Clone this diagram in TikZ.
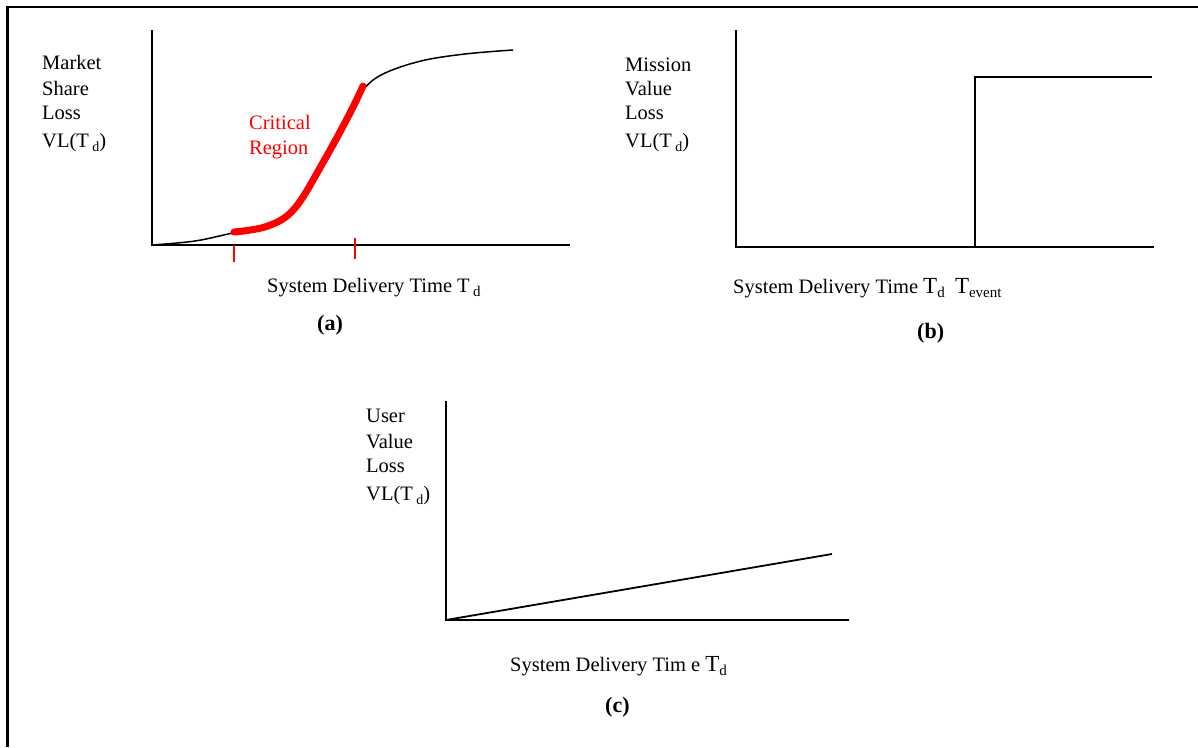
\documentclass[tikz,border=0pt]{standalone}
\usepackage{fontspec}
\setmainfont{Liberation Serif}
% lowered subscript letter of given size
\newcommand{\lowsub}[2]{\raisebox{-4pt}{\fontsize{#1}{#1}\selectfont #2}}
\newcommand{\bigT}{{\fontsize{23}{23}\selectfont T}}
\begin{document}
\begin{tikzpicture}[x=1pt,y=-1pt,
  lbl/.style={anchor=base west, inner sep=0pt, font=\fontsize{20.5}{25.5}\selectfont},
  redlbl/.style={lbl, text=red},
  panelcap/.style={anchor=base west, inner sep=0pt, font=\fontsize{22}{26}\selectfont\bfseries},
  axis/.style={line width=2.2pt},
  curve/.style={line width=1.5pt},
  frame/.style={line width=2.6pt},
  crit/.style={red, line width=7pt, line cap=round},
  tickmark/.style={red, line width=1.5pt}]
\useasboundingbox (0,0) rectangle (1198,747);

% outer frame (top and left edges)
\coordinate (fTL) at (7.5,7);
\coordinate (fTR) at (1198,7);
\coordinate (fBL) at (7.5,747);
\draw[frame] (fTR) -- (fTL) -- (fBL);

% ---------- panel (a): market share loss ----------
\coordinate (aO) at (152,245);
\coordinate (aY) at (152,30);
\coordinate (aX) at (570,245);
\draw[axis] (aY) -- (aO) -- (aX);
\draw[curve] plot[smooth, tension=0.6] coordinates {(152,245) (195,241) (233,233) (268,227) (295,209) (325,160) (350,114) (363,90) (383,74) (421,61) (465,54) (513,50)};
\draw[crit] plot[smooth, tension=0.6] coordinates {(234,232) (268,226) (295,208) (325,159) (350,113) (363,86)};
\coordinate (t1a) at (234,245);
\coordinate (t1b) at (234,262);
\coordinate (t2a) at (355,238);
\coordinate (t2b) at (355,259);
\draw[tickmark] (t1a) -- (t1b);
\draw[tickmark] (t2a) -- (t2b);
\node[lbl] (aYl1) at (42,69) {Market};
\node[lbl] (aYl2) at (42,95) {Share};
\node[lbl] (aYl3) at (42,119) {Loss};
\node[lbl] (aYl4) at (42,147) {VL(T\,\lowsub{14}{d})};
\node[redlbl] (crit1) at (249,129) {Critical};
\node[redlbl] (crit2) at (249,154) {Region};
\node[lbl] (aXl) at (267,292) {System Delivery Time T\,\lowsub{15}{d}};
\node[panelcap] (acap) at (317,330) {(a)};

% ---------- panel (b): mission value loss ----------
\coordinate (bO) at (736,247);
\coordinate (bY) at (736,30);
\coordinate (bX) at (1154,247);
\coordinate (bS1) at (975,247);
\coordinate (bS2) at (975,77);
\coordinate (bS3) at (1152,77);
\draw[axis] (bY) -- (bO) -- (bX);
\draw[axis] (bS1) -- (bS2) -- (bS3);
\node[lbl] (bYl1) at (625,71) {Mission};
\node[lbl] (bYl2) at (625,95) {Value};
\node[lbl] (bYl3) at (625,119) {Loss};
\node[lbl] (bYl4) at (625,147) {VL(T\,\lowsub{14}{d})};
\node[lbl] (bXl) at (733,293) {System Delivery Time \bigT\lowsub{15}{d}\ \ \bigT\lowsub{15}{event}};
\node[panelcap] (bcap) at (917,338) {(b)};

% ---------- panel (c): user value loss ----------
\coordinate (cO) at (446,620);
\coordinate (cY) at (446,401);
\coordinate (cX) at (849,620);
\coordinate (cE) at (832,554);
\draw[axis] (cY) -- (cO) -- (cX);
\draw[curve, line width=1.8pt] (cO) -- (cE);
\node[lbl] (cYl1) at (366,422) {User};
\node[lbl] (cYl2) at (366,448) {Value};
\node[lbl] (cYl3) at (366,472) {Loss};
\node[lbl] (cYl4) at (366,500) {VL(T\,\lowsub{14}{d})};
\node[lbl] (cXl) at (510,671) {System Delivery Tim e \bigT\lowsub{15}{d}};
\node[panelcap] (ccap) at (605,712) {(c)};
\end{tikzpicture}
\end{document}
